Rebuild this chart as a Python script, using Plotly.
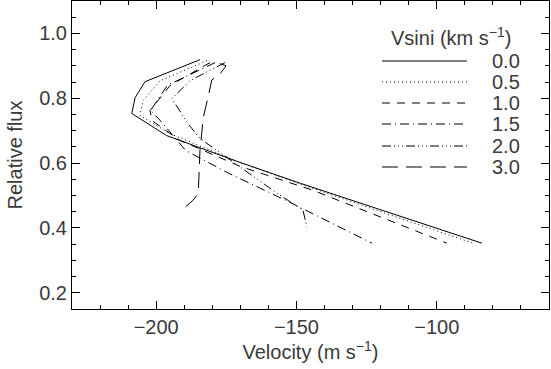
import plotly.graph_objects as go

# Data (velocity in m/s, relative flux)
vsini_labels = ["0.0", "0.5", "1.0", "1.5", "2.0", "3.0"]

v_00 = [-184.4, -204.0, -207.5, -208.7, -196.3, -184.4, -170.1, -148.7, -83.9]
f_00 = [0.919, 0.851, 0.802, 0.753, 0.685, 0.648, 0.602, 0.538, 0.353]

v_05 = [-181.9, -198.6, -204.7, -205.8, -195.1, -170.1, -148.5, -87.1]
f_05 = [0.916, 0.854, 0.793, 0.747, 0.691, 0.602, 0.535, 0.353]

v_10 = [-180.8, -195.1, -202.2, -201.5, -191.5, -170.1, -144.1, -96.4]
f_10 = [0.910, 0.839, 0.762, 0.731, 0.670, 0.590, 0.516, 0.353]

v_15 = [-179.0, -196.0, -202.0, -198.5, -189.5, -174.0, -152.6, -123.1]
f_15 = [0.910, 0.840, 0.762, 0.731, 0.639, 0.568, 0.480, 0.353]

v_20 = [-175.5, -188.0, -194.4, -188.7, -184.4, -167.6, -156.9, -147.7, -146.3]
f_20 = [0.910, 0.854, 0.799, 0.722, 0.676, 0.572, 0.507, 0.455, 0.403]

v_30 = [-177.3, -175.1, -177.0, -180.2, -181.4, -183.2, -184.4, -185.0, -186.8, -191.5]
f_30 = [0.907, 0.900, 0.878, 0.856, 0.808, 0.741, 0.639, 0.506, 0.486, 0.450]

series_v = [v_00, v_05, v_10, v_15, v_20, v_30]
series_f = [f_00, f_05, f_10, f_15, f_20, f_30]
dashes = ["solid", "1px,3px", "8px,7px", "9px,4px,1px,4px",
          "9px,3px,1px,3px,1px,3px,1px,3px", "16px,8px"]

FONT = "Liberation Sans"
TXT = "#3a3a3a"
FS = 20

fig = go.Figure()
for v, f, d in zip(series_v, series_f, dashes):
    fig.add_trace(go.Scatter(x=v, y=f, mode="lines",
                             line=dict(color="black", width=1, dash=d),
                             showlegend=False, hoverinfo="skip"))

# manual legend (IDL-style)
L, R, T, B = 72, 549, 1, 309
W, H = R - L, B - T
def px(xp):
    return (xp - L) / W
def py(yp):
    return 1 - (yp - T) / H

fig.add_annotation(x=px(451), y=py(36), xref="paper", yref="paper",
                   text="Vsini (km s<sup>−1</sup>)", showarrow=False,
                   font=dict(family=FONT, size=FS, color=TXT),
                   xanchor="center", yanchor="middle")
row_y = [61, 82, 103, 124, 146, 167]
for i, (lab, d) in enumerate(zip(vsini_labels, dashes)):
    y = py(row_y[i])
    fig.add_shape(type="line", xref="paper", yref="paper",
                  x0=px(382), x1=px(467), y0=y, y1=y,
                  line=dict(color="black", width=1, dash=d))
    fig.add_annotation(x=px(522), y=y, xref="paper", yref="paper",
                       text=lab, showarrow=False,
                       font=dict(family=FONT, size=FS, color=TXT),
                       xanchor="right", yanchor="middle")

axis_common = dict(showline=True, linecolor="black", linewidth=1,
                   mirror="allticks", ticks="inside", ticklen=8,
                   tickcolor="black", tickwidth=1, showgrid=False,
                   zeroline=False, automargin=False,
                   tickfont=dict(family=FONT, size=FS, color=TXT))

fig.update_xaxes(range=[-230, -60], dtick=50, tick0=0,
                 minor=dict(dtick=10, ticklen=4, ticks="inside",
                            tickcolor="black", showgrid=False),
                 title=dict(text="Velocity (m s<sup>−1</sup>)",
                            font=dict(family=FONT, size=FS, color=TXT),
                            standoff=4),
                 **axis_common)
fig.update_yaxes(range=[0.15, 1.1], dtick=0.2, tick0=0, tickformat=".1f",
                 minor=dict(dtick=0.05, ticklen=4, ticks="inside",
                            tickcolor="black", showgrid=False),
                 title=dict(text="Relative flux",
                            font=dict(family=FONT, size=FS, color=TXT),
                            standoff=11),
                 **axis_common)

fig.update_layout(width=551, height=369,
                  margin=dict(l=L, r=551 - R, t=T, b=369 - B),
                  plot_bgcolor="white", paper_bgcolor="white",
                  showlegend=False)

fig.write_html("out.html",
               config={"displayModeBar": False, "staticPlot": True},
               post_script="document.body.style.margin='0px';"
                           "document.body.style.overflow='hidden';")
